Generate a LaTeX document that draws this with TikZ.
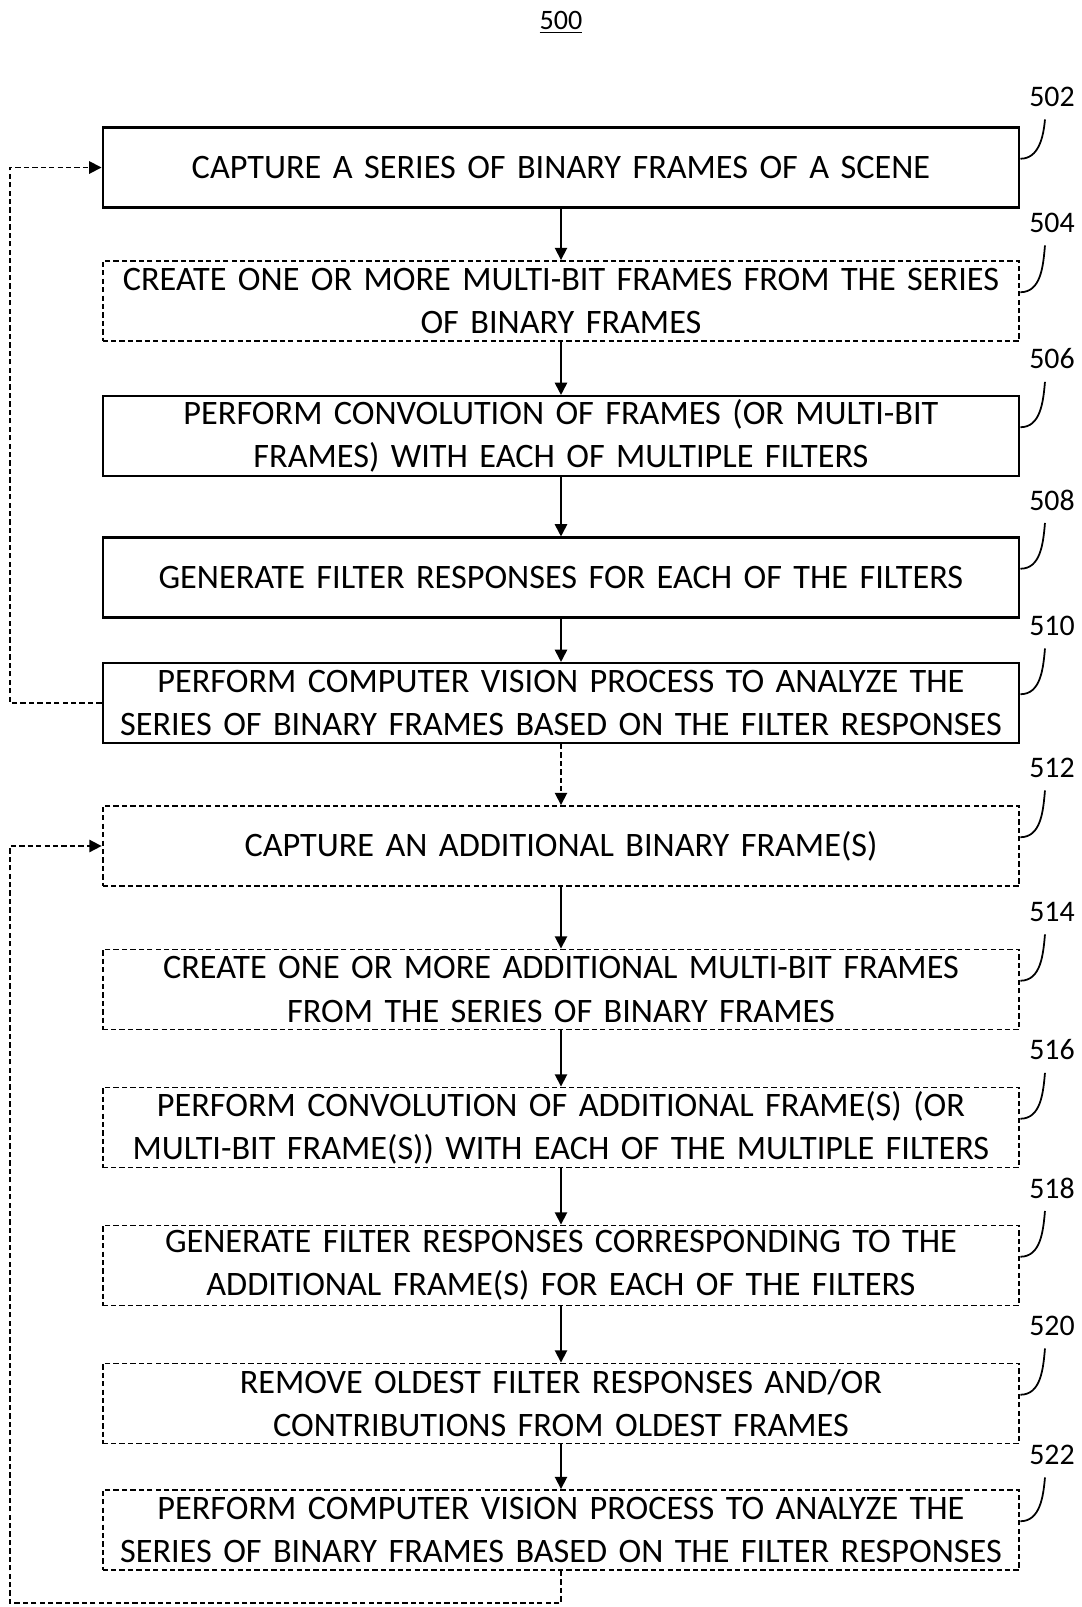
\documentclass[tikz,border=0pt]{standalone}
\usepackage{fontspec}
\setmainfont{Carlito}
\usetikzlibrary{arrows.meta}

\tikzset{
    stepbox/.style={draw, line width=1.2pt, text width=18.34cm, inner sep=0pt,
        minimum height=1.6cm, align=center, font=\fontsize{19.5}{24.5}\selectfont},
    optbox/.style={stepbox, line width=1.1pt, dash pattern=on 3pt off 1.8pt},
    reflabel/.style={inner sep=1pt, font=\fontsize{17}{20}\selectfont},
    flow/.style={-{Triangle[length=7pt,width=7pt]}, line width=1pt},
    backflow/.style={flow, dash pattern=on 3pt off 1.8pt}
}

\begin{document}
\begin{tikzpicture}[x=0.02cm, y=-0.02cm]
            \useasboundingbox (0,0) rectangle (1082,1607);

            % 1. Cím
            \node[font=\fontsize{16}{18}\selectfont] (title) at (561,22) {\underline{500}};

            % 2. Lépések
            \node[stepbox] (b502) at (561,167.5) {CAPTURE A SERIES OF BINARY FRAMES OF A SCENE};
            \node[optbox]  (b504) at (561,301)   {CREATE ONE OR MORE MULTI-BIT FRAMES FROM THE SERIES\\OF BINARY FRAMES};
            \node[stepbox] (b506) at (561,436)   {PERFORM CONVOLUTION OF FRAMES (OR MULTI-BIT\\FRAMES) WITH EACH OF MULTIPLE FILTERS};
            \node[stepbox] (b508) at (561,577.5) {GENERATE FILTER RESPONSES FOR EACH OF THE FILTERS};
            \node[stepbox] (b510) at (561,703)   {PERFORM COMPUTER VISION PROCESS TO ANALYZE THE\\SERIES OF BINARY FRAMES BASED ON THE FILTER RESPONSES};
            \node[optbox]  (b512) at (561,846)   {CAPTURE AN ADDITIONAL BINARY FRAME(S)};
            \node[optbox]  (b514) at (561,989.5) {CREATE ONE OR MORE ADDITIONAL MULTI-BIT FRAMES\\FROM THE SERIES OF BINARY FRAMES};
            \node[optbox]  (b516) at (561,1127.5) {PERFORM CONVOLUTION OF ADDITIONAL FRAME(S) (OR\\MULTI-BIT FRAME(S)) WITH EACH OF THE MULTIPLE FILTERS};
            \node[optbox]  (b518) at (561,1265.5) {GENERATE FILTER RESPONSES CORRESPONDING TO THE\\ADDITIONAL FRAME(S) FOR EACH OF THE FILTERS};
            \node[optbox]  (b520) at (561,1403.5) {REMOVE OLDEST FILTER RESPONSES AND/OR\\CONTRIBUTIONS FROM OLDEST FRAMES};
            \node[optbox]  (b522) at (561,1530)  {PERFORM COMPUTER VISION PROCESS TO ANALYZE THE\\SERIES OF BINARY FRAMES BASED ON THE FILTER RESPONSES};

            % 3. Hivatkozási számok és horgok
            \foreach \n/\y in {502/97,504/223,506/359,508/500,510/626,512/768,514/912,516/1050,518/1188,520/1326,522/1455} {
                \node[reflabel] (l\n) at (1052,\y) {\n};
                \draw[line width=1pt] ([yshift=5pt]b\n.east) to[out=0, in=-95] ([xshift=-4pt, yshift=-6pt]l\n.south);
            }

            % 4. Nyilak
            \foreach \a/\b in {502/504,504/506,506/508,508/510,512/514,514/516,516/518,518/520,520/522} {
                \draw[flow] (b\a) -- (b\b);
            }
            \draw[backflow] (b510) -- (b512);

            % 5. Visszacsatolások
            \coordinate (lft) at (10,0);
            \coordinate (bot) at (10,1603);
            \draw[backflow] (b510.west) -- (b510.west -| lft) |- (b502.west);
            \draw[backflow] (b522.south) |- (bot) |- (b512.west);
        \end{tikzpicture}
\end{document}
